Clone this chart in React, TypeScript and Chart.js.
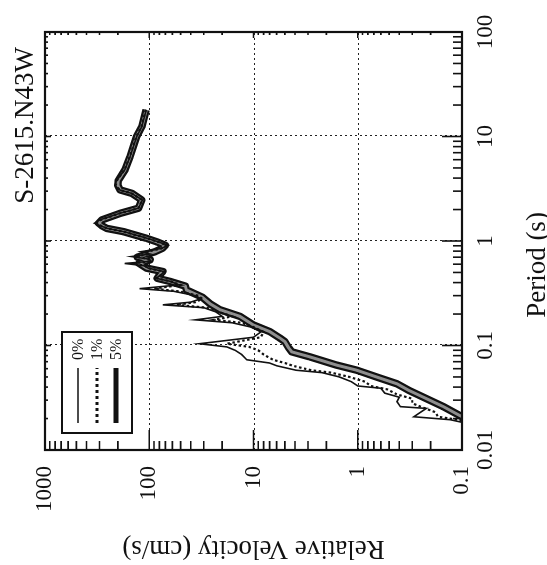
import { useEffect, useRef } from 'react';
import { Chart, registerables } from 'chart.js';

Chart.register(...registerables);

const chartTitle = 'S-2615.N43W';
const xAxisTitle = 'Period (s)';
const yAxisTitle = 'Relative Velocity (cm/s)';
const seriesLabels = ['0%', '1%', '5%'];
const periodTicks = [0.01, 0.1, 1, 10, 100];
const velocityTicks = [0.1, 1, 10, 100, 1000];

// 0% damping
const period0 = [18, 12.4, 10, 6.4, 4.8, 3.8, 3.4, 3.08, 2.86, 2.47, 2.06, 1.84, 1.59, 1.48, 1.4, 1.32, 1.23, 1.06, 0.98, 0.91, 0.85, 0.79, 0.75, 0.71, 0.67, 0.64, 0.61, 0.58, 0.55, 0.51, 0.47, 0.44, 0.41, 0.38, 0.35, 0.33, 0.3, 0.28, 0.26, 0.245, 0.23, 0.21, 0.19, 0.176, 0.165, 0.15, 0.135, 0.12, 0.104, 0.097, 0.09, 0.082, 0.073, 0.068, 0.064, 0.058, 0.055, 0.05, 0.045, 0.041, 0.039, 0.035, 0.032, 0.029, 0.026, 0.025, 0.0208, 0.0195, 0.018];
const velocity0 = [107, 118, 132, 153, 172, 206, 214, 192, 148, 116, 127, 192, 300, 335, 295, 252, 176, 104, 82, 66, 76, 120, 98, 148, 100, 96, 172, 112, 102, 72, 78, 86, 62, 52, 124, 58, 36, 32, 40, 74, 30, 23, 20, 36, 16, 10.5, 8.5, 10, 33, 18, 15, 13, 11.6, 7, 6, 3.9, 2.2, 1.5, 1.15, 1.0, 0.6, 0.55, 0.4, 0.42, 0.39, 0.22, 0.29, 0.13, 0.09];

// 1% damping
const period1 = [18, 12.4, 10, 6.4, 4.8, 3.8, 3.4, 3.08, 2.86, 2.47, 2.06, 1.84, 1.59, 1.48, 1.4, 1.32, 1.23, 1.06, 0.98, 0.91, 0.85, 0.79, 0.75, 0.71, 0.67, 0.64, 0.61, 0.58, 0.55, 0.51, 0.47, 0.44, 0.41, 0.38, 0.35, 0.33, 0.3, 0.28, 0.26, 0.245, 0.23, 0.21, 0.19, 0.176, 0.165, 0.15, 0.135, 0.12, 0.104, 0.097, 0.09, 0.082, 0.073, 0.068, 0.064, 0.058, 0.055, 0.05, 0.045, 0.041, 0.038, 0.034, 0.031, 0.028, 0.026, 0.023, 0.0208, 0.0195, 0.018];
const velocity1 = [108, 119, 133, 154, 173, 204, 210, 192, 148, 117, 127, 191, 292, 318, 290, 254, 176, 105, 82, 68, 76, 105, 100, 135, 100, 97, 145, 110, 103, 72, 78, 85, 62, 50, 90, 52, 34, 31, 36, 55, 28, 22, 16, 24, 13, 10, 8, 8.5, 18, 11, 9, 8, 6.5, 5, 4.2, 2.8, 1.8, 1.2, 0.85, 0.75, 0.52, 0.42, 0.3, 0.3, 0.25, 0.18, 0.17, 0.11, 0.085];

// 5% damping
const period5 = [18, 12.4, 10, 6.4, 4.8, 3.8, 3.4, 3.08, 2.86, 2.47, 2.06, 1.84, 1.59, 1.48, 1.4, 1.32, 1.23, 1.06, 0.98, 0.91, 0.85, 0.79, 0.73, 0.7, 0.66, 0.61, 0.55, 0.51, 0.47, 0.44, 0.41, 0.37, 0.34, 0.29, 0.25, 0.22, 0.19, 0.157, 0.136, 0.118, 0.109, 0.095, 0.087, 0.078, 0.065, 0.058, 0.05, 0.043, 0.037, 0.032, 0.026, 0.0208, 0.019];
const velocity5 = [107, 118, 132, 153, 171, 198, 200, 190, 147, 118, 127, 190, 286, 305, 285, 256, 177, 106, 84, 70, 75, 88, 114, 130, 98, 125, 106, 74, 80, 84, 63, 45, 44, 31, 26, 21, 13.5, 10, 7, 5.6, 5, 4.6, 4.3, 2.9, 1.6, 1.02, 0.66, 0.42, 0.32, 0.235, 0.151, 0.1, 0.085];

const serif = '"Liberation Serif", "Times New Roman", serif';
const ink = '#111';

const pts = (p: number[], v: number[]) => p.map((x, i) => ({ x, y: v[i] }));

const framePlugin = {
  id: 'frame',
  beforeDatasetsDraw(chart: any) {
    const { ctx, chartArea: a, scales } = chart;
    ctx.save();
    ctx.strokeStyle = '#222';
    ctx.lineWidth = 1;
    ctx.setLineDash([2, 3]);
    periodTicks.slice(1, -1).forEach((t) => {
      const px = Math.round(scales.x.getPixelForValue(t)) + 0.5;
      ctx.beginPath();
      ctx.moveTo(px, a.top);
      ctx.lineTo(px, a.bottom);
      ctx.stroke();
    });
    velocityTicks.slice(1, -1).forEach((t) => {
      const py = Math.round(scales.y.getPixelForValue(t)) + 0.5;
      ctx.beginPath();
      ctx.moveTo(a.left, py);
      ctx.lineTo(a.right, py);
      ctx.stroke();
    });
    ctx.restore();
  },
  afterDatasetsDraw(chart: any) {
    const { ctx, chartArea: a, scales } = chart;
    ctx.save();
    ctx.strokeStyle = ink;
    ctx.setLineDash([]);
    ctx.lineWidth = 1.6;
    // minor / major ticks (inward)
    periodTicks.slice(0, -1).forEach((d) => {
      for (let k = 1; k <= 9; k++) {
        const px = scales.x.getPixelForValue(k * d);
        const big = k === 1;
        ctx.beginPath();
        ctx.moveTo(px, a.bottom);
        ctx.lineTo(px, a.bottom - (big ? 20 : 9));
        ctx.moveTo(px, a.top);
        ctx.lineTo(px, a.top + (big ? 6 : 3));
        ctx.stroke();
      }
    });
    velocityTicks.slice(0, -1).forEach((d) => {
      for (let k = 1; k <= 9; k++) {
        const py = scales.y.getPixelForValue(k * d);
        const big = k === 1;
        ctx.beginPath();
        ctx.moveTo(a.left, py);
        ctx.lineTo(a.left + (big ? 20 : 9), py);
        ctx.moveTo(a.right, py);
        ctx.lineTo(a.right - (big ? 6 : 3), py);
        ctx.stroke();
      }
    });
    // frame
    ctx.lineWidth = 2.2;
    ctx.strokeRect(a.left, a.top, a.right - a.left, a.bottom - a.top);

    // legend
    const lx = a.left + 17;
    const ly = a.top + 17;
    ctx.fillStyle = '#fff';
    ctx.fillRect(lx, ly, 101, 70);
    ctx.lineWidth = 2;
    ctx.strokeRect(lx, ly, 101, 70);
    const rows = [16, 35, 54];
    const widths = [1.5, 3, 5];
    const dashes = [[], [3, 3], []];
    seriesLabels.forEach((lab, i) => {
      const y = ly + rows[i];
      ctx.lineWidth = widths[i];
      ctx.setLineDash(dashes[i]);
      ctx.beginPath();
      ctx.moveTo(lx + 10, y);
      ctx.lineTo(lx + 65, y);
      ctx.stroke();
      ctx.setLineDash([]);
      ctx.fillStyle = ink;
      ctx.font = `16px ${serif}`;
      ctx.textAlign = 'left';
      ctx.textBaseline = 'middle';
      ctx.fillText(lab, lx + 73, y + 1);
    });

    // titles
    ctx.fillStyle = ink;
    ctx.font = `27px ${serif}`;
    ctx.textAlign = 'right';
    ctx.textBaseline = 'alphabetic';
    ctx.fillText(chartTitle, a.right - 15, a.top - 12);

    ctx.textAlign = 'center';
    ctx.fillText(xAxisTitle, (a.left + a.right) / 2 - 24, 545);

    ctx.translate(24, (a.top + a.bottom) / 2);
    ctx.rotate(-Math.PI / 2);
    ctx.fillText(yAxisTitle, 0, 0);
    ctx.restore();
  },
};

export default function App() {
  const ref = useRef<HTMLCanvasElement>(null);
  useEffect(() => {
    if (!ref.current) return;
    const chart = new Chart(ref.current, {
      type: 'line',
      data: {
        datasets: [
          { label: seriesLabels[0], data: pts(period0, velocity0), borderColor: ink, borderWidth: 1.6, pointRadius: 0, tension: 0, fill: false },
          { label: seriesLabels[1], data: pts(period1, velocity1), borderColor: ink, borderWidth: 2.2, borderDash: [2.5, 2.5], pointRadius: 0, tension: 0, fill: false },
          { label: seriesLabels[2], data: pts(period5, velocity5), borderColor: '#8e8e8e', borderWidth: 3, pointRadius: 0, tension: 0, fill: false, borderJoinStyle: 'round' },
          { label: seriesLabels[2], data: pts(period5, velocity5), borderColor: ink, borderWidth: 7.5, pointRadius: 0, tension: 0, fill: false, borderJoinStyle: 'round' },
        ],
      } as any,
      options: {
        responsive: false,
        animation: false,
        events: [],
        layout: { padding: { left: 0, right: 32, top: 45, bottom: 0 } },
        plugins: { legend: { display: false }, title: { display: false }, tooltip: { enabled: false } },
        scales: {
          x: {
            type: 'logarithmic',
            position: 'bottom',
            min: 0.01,
            max: 100,
            afterBuildTicks: (s: any) => { s.ticks = periodTicks.map((value) => ({ value })); },
            afterFit: (s: any) => { s.height = 85; },
            grid: { display: false, drawTicks: false },
            border: { display: false },
            ticks: { font: { family: serif, size: 23 }, color: ink, padding: 10, maxRotation: 0, minRotation: 0, autoSkip: false, callback: (v: any) => String(v) },
          },
          y: {
            type: 'logarithmic',
            position: 'left',
            min: 0.1,
            max: 1000,
            afterBuildTicks: (s: any) => { s.ticks = velocityTicks.map((value) => ({ value })); },
            afterFit: (s: any) => { s.width = 115; },
            grid: { display: false, drawTicks: false },
            border: { display: false },
            ticks: { font: { family: serif, size: 23 }, color: ink, padding: 16, autoSkip: false, callback: (v: any) => String(v) },
          },
        },
      } as any,
      plugins: [framePlugin],
    });
    return () => chart.destroy();
  }, []);

  return (
    <div style={{ position: 'fixed', left: 0, top: 0, width: 547, height: 565, overflow: 'hidden', background: '#fff' }}>
      <div style={{ position: 'absolute', left: 0, top: 0, width: 565, height: 547, transformOrigin: '0 0', transform: 'translateY(565px) rotate(-90deg)' }}>
        <canvas ref={ref} width={565} height={547} style={{ display: 'block', width: 565, height: 547 }} />
      </div>
    </div>
  );
}
